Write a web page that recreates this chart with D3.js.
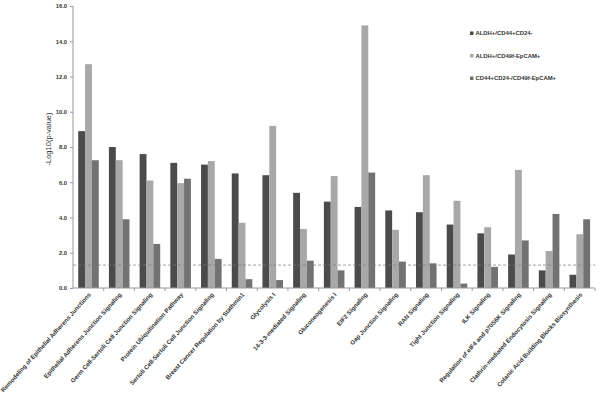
<!DOCTYPE html>
<html>
<head>
<meta charset="utf-8">
<script src="https://cdn.jsdelivr.net/npm/d3@7"></script>
<style>
  body { margin: 0; background: #fff; }
  text { font-family: "Liberation Sans", Arial, sans-serif; fill: #333; }
</style>
</head>
<body>
<svg id="drawing_region"></svg>
<script>
// pathways on the x axis
const categories = [
    "Remodeling of Epithelial Adherens Junctions",
    "Epithelial Adherens Junction Signaling",
    "Germ Cell-Sertoli Cell Junction Signaling",
    "Protein Ubiquitination Pathway",
    "Sertoli Cell-Sertoli Cell Junction Signaling",
    "Breast Cancer Regulation by Stathmin1",
    "Glycolysis I",
    "14-3-3-mediated Signaling",
    "Gluconeogenesis I",
    "EIF2 Signaling",
    "Gap Junction Signaling",
    "RAN Signaling",
    "Tight Junction Signaling",
    "ILK Signaling",
    "Regulation of eIF4 and p70S6K Signaling",
    "Clathrin-mediated Endocytosis Signaling",
    "Colanic Acid Building Blocks Biosynthesis"
];

const series = ["ALDH+/CD44+CD24-", "ALDH+/CD49f-EpCAM+", "CD44+CD24-/CD49f-EpCAM+"];

// -log10(p) per series
const aldhCd44 = [8.9, 8.0, 7.6, 7.1, 7.0, 6.5, 6.4, 5.4, 4.9, 4.6, 4.4, 4.3, 3.6, 3.1, 1.9, 1.0, 0.75];
const aldhCd49f = [12.7, 7.25, 6.1, 5.95, 7.2, 3.7, 9.2, 3.35, 6.35, 14.9, 3.3, 6.4, 4.95, 3.45, 6.7, 2.1, 3.05];
const cd44Cd49f = [7.25, 3.9, 2.5, 6.2, 1.65, 0.5, 0.45, 1.55, 1.0, 6.55, 1.5, 1.4, 0.25, 1.2, 2.7, 4.2, 3.9];

const yTicks = [0, 2, 4, 6, 8, 10, 12, 14, 16];
const threshold = 1.3;

const colors = ["#4b4b4b", "#a8a8a8", "#727272"];

const values = [aldhCd44, aldhCd49f, cd44Cd49f];
const data = categories.map((c, i) => ({ name: c, vals: values.map(v => v[i]) }));

const width = 600, height = 394;
const margin = { top: 6, right: 5, bottom: 106, left: 73 };
const inner_width = width - margin.left - margin.right;
const inner_height = height - margin.top - margin.bottom;

const svg = d3.select('#drawing_region')
    .attr('width', width)
    .attr('height', height);

const chart = svg.append('g')
    .attr('transform', `translate(${margin.left}, ${margin.top})`);

const x0 = d3.scaleBand().domain(categories).range([0, inner_width]).padding(0);
const bw = x0.bandwidth();
const x1 = d3.scaleBand().domain(d3.range(series.length)).range([bw * 0.17, bw * 0.84]);
const yscale = d3.scaleLinear().domain([0, 16]).range([inner_height, 0]);

// bars
const groups = chart.selectAll('g.grp')
    .data(data)
    .join('g')
    .attr('class', 'grp')
    .attr('transform', d => `translate(${x0(d.name)},0)`);

groups.selectAll('rect')
    .data(d => d.vals.map((v, k) => ({ v, k })))
    .join('rect')
    .attr('x', d => x1(d.k))
    .attr('width', x1.bandwidth())
    .attr('y', d => yscale(d.v))
    .attr('height', d => inner_height - yscale(d.v))
    .attr('fill', d => colors[d.k]);

// significance threshold
chart.append('line')
    .attr('x1', 0).attr('x2', inner_width)
    .attr('y1', yscale(threshold)).attr('y2', yscale(threshold))
    .attr('stroke', '#7a7a7a')
    .attr('stroke-width', 0.7)
    .attr('stroke-dasharray', '3,2');

// y axis
const yaxis = d3.axisLeft(yscale)
    .tickValues(yTicks)
    .tickSize(3)
    .tickPadding(3)
    .tickFormat(d3.format('.1f'));

const yaxis_group = chart.append('g').call(yaxis);
yaxis_group.select('.domain').attr('stroke', '#999').attr('d', `M0,0V${inner_height}`);
yaxis_group.selectAll('.tick line').attr('stroke', '#999');
yaxis_group.selectAll('text')
    .style('font-size', '5.8px')
    .style('font-weight', 'bold')
    .attr('fill', '#333');

// x axis: ticks at category boundaries
const xaxis_group = chart.append('g')
    .attr('transform', `translate(0, ${inner_height})`);
xaxis_group.append('line')
    .attr('x1', 0).attr('x2', inner_width)
    .attr('stroke', '#999');
xaxis_group.selectAll('line.tk')
    .data(categories)
    .join('line')
    .attr('class', 'tk')
    .attr('x1', d => x0(d) + bw).attr('x2', d => x0(d) + bw)
    .attr('y1', 0).attr('y2', 3)
    .attr('stroke', '#999');

xaxis_group.selectAll('text')
    .data(categories)
    .join('text')
    .attr('transform', d => `translate(${x0(d) + bw / 2 + 3}, 7) rotate(-48)`)
    .attr('text-anchor', 'end')
    .style('font-size', '6.1px')
    .style('font-weight', 'bold')
    .text(d => d);

// y title
svg.append('text')
    .attr('transform', `translate(51, 139) rotate(-90)`)
    .attr('text-anchor', 'middle')
    .style('font-size', '7.5px')
    .text('-Log10(p-value)');

// legend
const legend = svg.append('g')
    .attr('transform', 'translate(470, 35)');
const item = legend.selectAll('g')
    .data(series)
    .join('g')
    .attr('transform', (d, i) => `translate(0, ${i * 22.5})`);
item.append('rect')
    .attr('x', 0).attr('y', -3.5)
    .attr('width', 3.5).attr('height', 3.5)
    .attr('fill', (d, i) => colors[i]);
item.append('text')
    .attr('x', 5.5).attr('y', 0)
    .style('font-size', '5.9px')
    .style('font-weight', 'bold')
    .text(d => d);
</script>
</body>
</html>
